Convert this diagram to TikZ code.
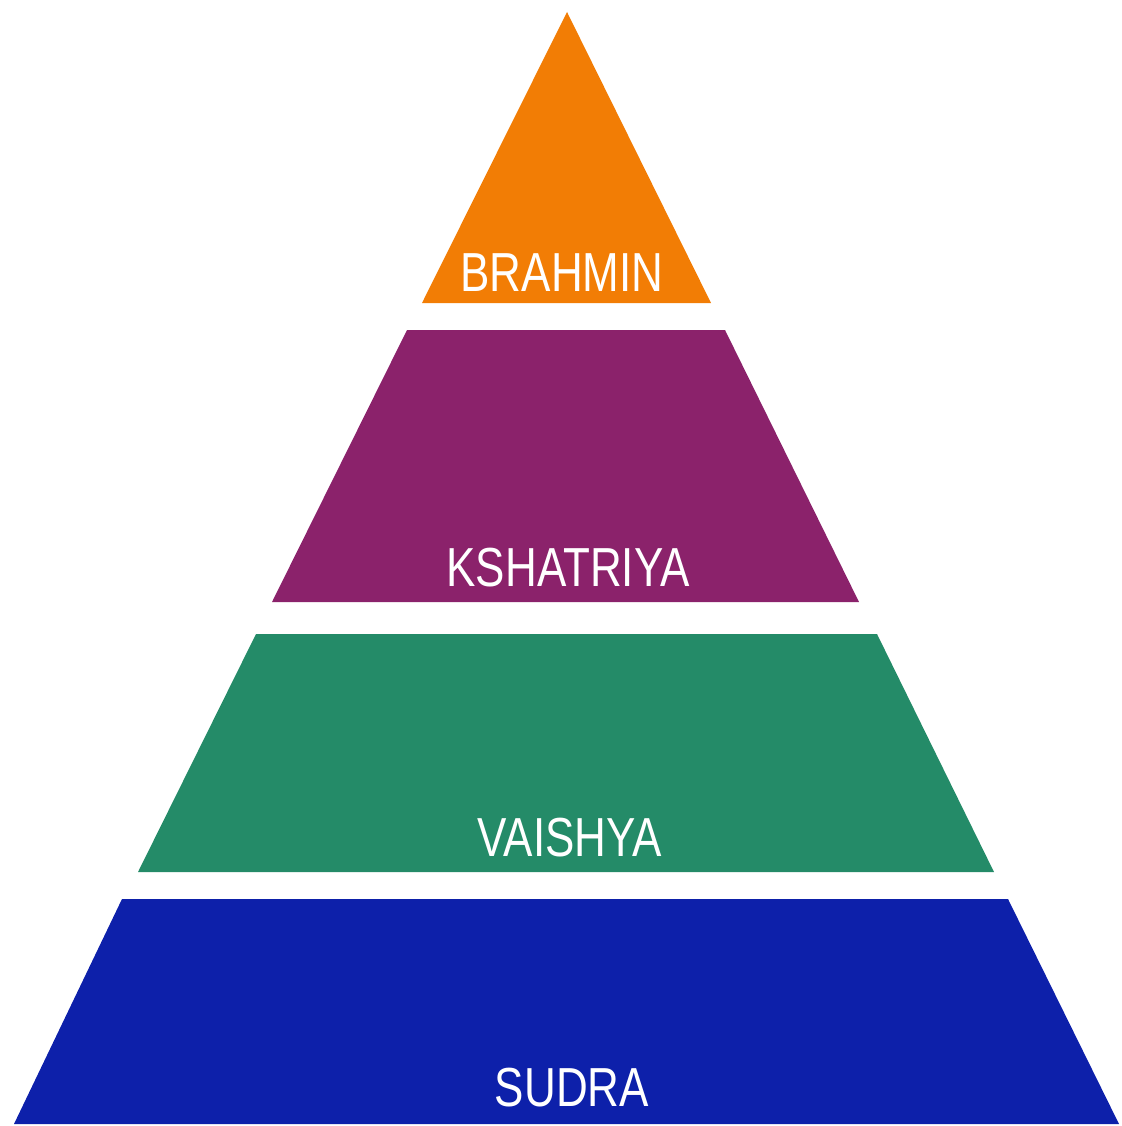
\documentclass[tikz,border=0pt]{standalone}
\usepackage{fontspec}
\setmainfont{Liberation Sans}
\definecolor{brah}{HTML}{F27D05}
\definecolor{ksha}{HTML}{8B226B}
\definecolor{vais}{HTML}{248B68}
\definecolor{sudr}{HTML}{0D20AA}
\begin{document}
\begin{tikzpicture}[x=1pt,y=-1pt,
  lbl/.style={text=white,font=\fontsize{55}{55}\selectfont,xscale=0.8,inner sep=0pt,anchor=base}]
\useasboundingbox (0,0) rectangle (1121,1126);
\fill[brah] (567,12) -- (711,303) -- (422,303) -- cycle;
\fill[ksha] (407,330) -- (725,330) -- (859,602) -- (272,602) -- cycle;
\fill[vais] (256,634) -- (877,634) -- (994,872) -- (138,872) -- cycle;
\fill[sudr] (122,899) -- (1008,899) -- (1119,1124) -- (14,1124) -- cycle;
\node[lbl] (b) at (562,291) {BRAHMIN};
\node[lbl] (k) at (568,586) {KSHATRIYA};
\node[lbl] (v) at (570,856) {VAISHYA};
\node[lbl] (s) at (572,1106) {SUDRA};
\end{tikzpicture}
\end{document}
